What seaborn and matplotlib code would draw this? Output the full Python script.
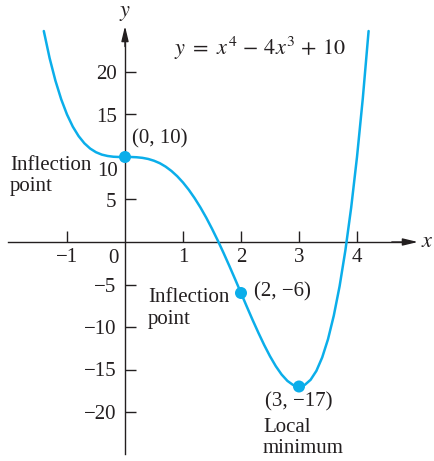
import matplotlib
matplotlib.use("Agg")
import matplotlib.pyplot as plt
import seaborn as sns

# curve samples
x_vals = [-1.4, -1.3, -1.2, -1.1, -1.0, -0.9, -0.8, -0.7, -0.6, -0.5, -0.4, -0.3, -0.2, -0.1,
          0.0, 0.1, 0.2, 0.3, 0.4, 0.5, 0.6, 0.7, 0.8, 0.9, 1.0, 1.1, 1.2, 1.3, 1.4, 1.5,
          1.6, 1.7, 1.8, 1.9, 2.0, 2.1, 2.2, 2.3, 2.4, 2.5, 2.6, 2.7, 2.8, 2.9, 3.0, 3.1,
          3.2, 3.3, 3.4, 3.5, 3.6, 3.7, 3.8, 3.9, 4.0, 4.1, 4.2]
y_vals = [24.82, 21.64, 18.99, 16.79, 15.0, 13.57, 12.46, 11.61, 10.99, 10.56, 10.28, 10.12, 10.03, 10.0,
          10.0, 10.0, 9.97, 9.90, 9.77, 9.56, 9.27, 8.87, 8.36, 7.74, 7.0, 6.14, 5.16, 4.07, 2.87, 1.56,
          0.17, -1.30, -2.83, -4.40, -6.0, -7.60, -9.17, -10.68, -12.12, -13.44, -14.61, -15.59, -16.34, -16.83, -17.0, -16.81,
          -16.21, -15.16, -13.58, -11.44, -8.66, -5.20, -0.97, 4.07, 10.0, 16.89, 24.82]

# marked points
pt_x = [0, 2, 3]
pt_y = [10, -6, -17]

x_ticks = [-1, 1, 2, 3, 4]
x_ticklabels = ["\u22121", "1", "2", "3", "4"]
y_ticks = [-20, -15, -10, -5, 5, 15, 20]
y_ticklabels = ["\u221220", "\u221215", "\u221210", "\u22125", "5", "15", "20"]

blue = "#0BAEEA"
ink = "#231F20"

sns.set_style("white")
plt.rcParams["font.family"] = ["Liberation Serif", "DejaVu Serif"]
plt.rcParams["mathtext.fontset"] = "stix"
fs = 15

fig = plt.figure(figsize=(4.34, 4.61), dpi=100)
ax = fig.add_axes([0, 0, 1, 1])
ax.set_xlim(-125 / 58, (434 - 125) / 58)
ax.set_ylim((242 - 461) / 8.5, 242 / 8.5)

sns.lineplot(x=x_vals, y=y_vals, sort=False, color=blue, lw=1.8, ax=ax, zorder=3)
sns.scatterplot(x=pt_x, y=pt_y, color=blue, s=75, edgecolor="none", ax=ax, zorder=4)

# axes through the origin
for side in ["top", "right"]:
    ax.spines[side].set_visible(False)
ax.spines["left"].set_position(("data", 0))
ax.spines["bottom"].set_position(("data", 0))
ax.spines["left"].set_bounds(-24.9, 24.5)
ax.spines["bottom"].set_bounds(-2.02, 4.9)
for side in ["left", "bottom"]:
    ax.spines[side].set_color(ink)
    ax.spines[side].set_linewidth(1.0)

arrow = dict(arrowstyle="-|>,head_length=0.75,head_width=0.18", color=ink, lw=1.0,
             mutation_scale=12, shrinkA=0, shrinkB=0)
ax.annotate("", xy=(0, 25.4), xytext=(0, 23.0), arrowprops=arrow)
ax.annotate("", xy=(5.05, 0), xytext=(4.6, 0), arrowprops=arrow)

ax.set_xticks(x_ticks)
ax.set_xticklabels(x_ticklabels)
ax.set_yticks(y_ticks)
ax.set_yticklabels(y_ticklabels)
ax.tick_params(bottom=True, left=True, direction="in", length=8, width=1.0, color=ink,
               labelsize=fs, labelcolor=ink, pad=6)
ax.tick_params(axis="x", pad=4)

ax.text(-0.12, 8.25, "10", ha="right", va="center", fontsize=fs, color=ink)
ax.text(-0.2, -1.9, "0", ha="center", va="center", fontsize=fs, color=ink)
ax.text(0, 26.9, "$y$", ha="center", va="center", fontsize=fs + 1, color=ink)
ax.text(5.22, 0, "$x$", ha="center", va="center", fontsize=fs + 1, color=ink)

ax.text(2.33, 22.8, r"$y\ =\ x^4\,-\,4x^3\,+\,10$", ha="center", va="center",
        fontsize=fs + 1, color=ink)
ax.text(0.12, 12.1, "(0, 10)", ha="left", va="center", fontsize=fs, color=ink)
ax.text(-1.98, 7.76, "Inflection\npoint", ha="left", va="center", fontsize=fs,
        color=ink, linespacing=1.15)
ax.text(0.40, -7.82, "Inflection\npoint", ha="left", va="center", fontsize=fs,
        color=ink, linespacing=1.15)
ax.text(2.22, -5.9, "(2, \u22126)", ha="left", va="center", fontsize=fs, color=ink)
ax.text(3.0, -18.8, "(3, \u221217)", ha="center", va="center", fontsize=fs, color=ink)
ax.text(2.38, -23.1, "Local\nminimum", ha="left", va="center", fontsize=fs,
        color=ink, linespacing=1.15)

fig.savefig("out.png", dpi=100)
